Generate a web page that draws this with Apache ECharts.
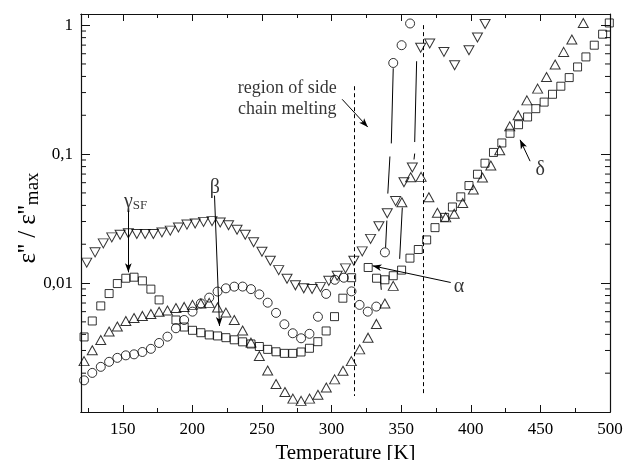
<!DOCTYPE html>
<html><head><meta charset="utf-8">
<script src="https://cdn.jsdelivr.net/npm/echarts@6/dist/echarts.min.js"></script>
<style>html,body{margin:0;padding:0;background:#fff}#c{width:626px;height:460px}</style>
</head><body><div id="c"></div>
<script>
// ---- data (temperature [K], eps''/eps''max) ----
const squareT = [122.2,128.1,134.2,140.2,146.1,152.2,158.1,164.1,170.2,176.1,188.2,194.1,200.1,206.1,212.1,218.1,224.1,230.1,236.1,242.1,248.1,254.1,260.1,266.1,272.1,278.1,284.1,290.1,296.1,302.1,308.1,314.4,326.3,332.3,338.3,344.3,350.3,356.3,362.3,368.3,374.3,381.2,386.8,392.8,398.7,404.8,410.2,416.3,422.3,428.2,434.3,440.8,446.7,452.7,458.7,464.7,470.7,476.7,482.7,488.7,494.7,499.5];
const squareV = [0.00382,0.00508,0.00665,0.00829,0.00991,0.0109,0.0111,0.0104,0.00897,0.0074,0.00517,0.00456,0.0043,0.00412,0.00396,0.00389,0.00377,0.00363,0.0035,0.00337,0.00322,0.00306,0.00293,0.00285,0.00285,0.00292,0.00312,0.00351,0.00425,0.00549,0.00763,0.0110,0.0132,0.0109,0.0106,0.0114,0.0126,0.0156,0.0182,0.0216,0.0269,0.0323,0.0389,0.0466,0.0570,0.0698,0.0850,0.103,0.122,0.145,0.169,0.194,0.225,0.253,0.291,0.336,0.392,0.474,0.567,0.699,0.851,1.04];

const circleT = [122.2,128.1,134.2,140.2,146.1,152.2,158.1,164.1,170.2,176.1,182.1,188.2,194.1,200.1,206.1,212.1,218.1,224.1,230.1,236.1,242.1,248.1,254.1,260.1,266.1,272.1,278.1,284.1,290.2,296.1,302.3,308.8,314.3,320.1,326.0,332.1,338.3,344.3,350.3,356.4];
const circleV = [0.00176,0.00201,0.00224,0.00245,0.00263,0.00275,0.0028,0.00292,0.00309,0.00343,0.00384,0.00446,0.00517,0.0060,0.00695,0.00771,0.00859,0.0091,0.00938,0.00939,0.00897,0.00817,0.00704,0.00587,0.00479,0.00408,0.00373,0.00404,0.00548,0.00824,0.0106,0.0110,0.00862,0.00677,0.0060,0.00657,0.0173,0.509,0.699,1.03];

const upT = [122.2,128.1,134.2,140.2,146.1,152.2,158.1,164.1,170.2,176.1,182.1,188.2,194.1,200.1,206.1,212.1,218.1,224.1,230.1,236.1,242.1,248.1,254.1,260.1,266.5,272.2,278.1,284.2,290.2,296.2,302.2,308.2,314.2,320.2,326.2,332.2,338.3,344.3,350.5,356.8,364.3,369.9,376.0,382.0,388.1,394.2,401.8,408.4,414.4,420.8,428.0,434.0,440.3,448.0,454.4,460.6,466.7,472.6,480.8];
const upV = [0.00248,0.00301,0.00362,0.00421,0.0046,0.00508,0.00536,0.00556,0.00576,0.00599,0.00612,0.00641,0.00653,0.00677,0.00693,0.00702,0.00647,0.0059,0.00517,0.00429,0.00345,0.00272,0.0021,0.00165,0.00143,0.00127,0.00122,0.00127,0.00136,0.00155,0.00179,0.00209,0.00248,0.00306,0.00377,0.00482,0.00693,0.00951,0.0423,0.0661,0.0666,0.0462,0.0351,0.0323,0.0345,0.0417,0.0531,0.0658,0.0815,0.107,0.164,0.200,0.261,0.322,0.396,0.495,0.620,0.774,1.04];

const downT = [124.1,130.1,136.0,142.1,148.1,154.0,160.1,166.1,172.0,178.1,184.1,190.0,196.1,202.0,208.0,214.1,220.0,226.0,232.1,238.0,244.0,250.0,256.0,262.0,268.0,274.0,280.0,286.0,292.0,298.0,304.0,310.0,316.0,322.0,328.0,334.0,340.0,346.0,352.0,358.0,364.0,370.5,380.7,388.4,398.7,404.8,410.3];
const downV = [0.0144,0.0173,0.0203,0.0226,0.0237,0.0243,0.024,0.024,0.024,0.0247,0.0255,0.027,0.0284,0.029,0.0298,0.0302,0.0295,0.0281,0.0259,0.0237,0.0207,0.0175,0.0149,0.0126,0.0108,0.0096,0.0091,0.0090,0.0093,0.0104,0.0114,0.0130,0.0149,0.0176,0.0220,0.0276,0.0348,0.0432,0.0605,0.0787,0.668,0.721,0.620,0.489,0.639,0.802,1.02];

// ---- axis ticks / labels ----
const xTickMinor = [125,150,175,200,225,250,275,300,325,350,375,400,425,450,475,500];
const xTickLabels = [150,200,250,300,350,400,450,500];
const yTickVals = [0.01,0.1,1];
const yTickLabels = ['0,01','0,1','1'];
const yMantissas = [2,3,4,5,6,7,8,9];
const yDecades = [0.001,0.01,0.1];

const FONT = 'Liberation Serif';
const zip = (a,b) => a.map((t,i)=>[t,b[i]]);
const yMinor = [];
yDecades.forEach(d => yMantissas.forEach(m => yMinor.push([120, +(d*m).toPrecision(3)])));

const hollow = {color:'rgba(0,0,0,0)', borderColor:'#000', borderWidth:1};

// annotation geometry in data space (T, value)
const dashedLines = [[[316.5,0.336],[316.5,0.00133]],[[365.9,1.0],[365.9,0.00138]]];
const arrowLines = [
  [[154.0,0.0364],[154.0,0.0121]],
  [[215.9,0.0477],[219.5,0.00465]],
  [[385.6,0.0101],[329.4,0.0136]],
  [[442.6,0.0881],[435.4,0.129]],
  [[307.6,0.266],[326.0,0.162]]
];
const plainLines = [
  [[344.3,0.463],[342.9,0.121]],[[341.9,0.0958],[340.4,0.0494]],[[339.7,0.0305],[338.8,0.0188]],[[335.2,0.0102],[335.7,0.00886]],
  [[361.1,0.525],[359.7,0.124]],[[359.7,0.101],[359.2,0.0908]],
  [[350.8,0.0385],[348.9,0.0154]]
];
const texts = [
  {pos:[159.2,0.0430], text:'{g|γ}{s|SF}'},
  {pos:[216.1,0.0545], text:'{g|β}'},
  {pos:[391.5,0.0093], text:'{g|α}'},
  {pos:[449.8,0.0750], text:'{g|δ}'},
  {pos:[268.1,0.270], text:'{r|region of side}\n{r|chain melting}'}
];

const mlData = [];
dashedLines.forEach(l => mlData.push([{coord:l[0], symbol:'none', lineStyle:{type:[4,3], color:'#000', width:1}},{coord:l[1], symbol:'none'}]));
arrowLines.forEach(l => mlData.push([{coord:l[0], symbol:'none', lineStyle:{type:'solid', color:'#000', width:1}},{coord:l[1], symbol:'arrow', symbolSize:[5,9]}]));
plainLines.forEach(l => mlData.push([{coord:l[0], symbol:'none', lineStyle:{type:'solid', color:'#000', width:1}},{coord:l[1], symbol:'none'}]));

const axisLineStyle = {show:true, lineStyle:{color:'#111', width:1.2}};
function xAx(pos, len, vals, labels, name) {
  return {type:'value', min:120, max:500, position:pos,
    axisLine:axisLineStyle, splitLine:{show:false},
    axisTick:{show:true, inside:true, length:len, customValues:vals, lineStyle:{color:'#111', width:1}},
    axisLabel: labels ? {show:true, customValues:labels, fontFamily:FONT, fontSize:17, color:'#000', margin:9} : {show:false},
    name: name || '', nameLocation:'middle', nameGap:23,
    nameTextStyle:{fontFamily:FONT, fontSize:21, color:'#000'}
  };
}
function yLabel(v){
  for (let i=0;i<yTickVals.length;i++) if (Math.abs(Math.log10(v)-Math.log10(yTickVals[i]))<1e-6) return yTickLabels[i];
  return '';
}

const chart = echarts.init(document.getElementById('c'), null, {renderer:'canvas'});
chart.setOption({
  animation:false,
  backgroundColor:'#fff',
  grid:{left:81, right:16, top:14, bottom:48, containLabel:false, outerBoundsMode:'none'},
  graphic:[{
    type:'text', x:28, y:218, rotation:Math.PI/2, silent:true,
    style:{text:'{a|ε\'\' / ε\'\'}{s|max}', align:'center', verticalAlign:'middle', fill:'#000',
      rich:{a:{fontFamily:FONT, fontSize:25, fill:'#000'}, s:{fontFamily:FONT, fontSize:19, fill:'#000', padding:[11,0,0,0]}}}
  }],
  xAxis:[
    xAx('bottom',4,xTickMinor,xTickLabels,'Temperature [K]'),
    xAx('bottom',7,xTickLabels,null),
    xAx('top',4,xTickMinor,null),
    xAx('top',7,xTickLabels,null)
  ],
  yAxis:[
    {type:'log', logBase:10, min:0.001, max:1.22, position:'left',
     axisLine:axisLineStyle, splitLine:{show:false},
     axisTick:{show:true, inside:true, length:9, lineStyle:{color:'#111', width:1}},
     axisLabel:{show:true, formatter:yLabel, fontFamily:FONT, fontSize:17, color:'#000', margin:8}
    },
    {type:'log', logBase:10, min:0.001, max:1.22, position:'right',
     axisLine:axisLineStyle, splitLine:{show:false},
     axisTick:{show:true, inside:true, length:9, lineStyle:{color:'#111', width:1}},
     axisLabel:{show:false}}
  ],
  series:[
    {type:'custom', silent:true, data:yMinor, clip:false, z:1,
     renderItem:(params, api)=>{
       const p = api.coord([api.value(0), api.value(1)]);
       const cs = params.coordSys;
       const st = {stroke:'#111', lineWidth:1};
       return {type:'group', children:[
         {type:'line', shape:{x1:cs.x, y1:p[1], x2:cs.x+5, y2:p[1]}, style:st},
         {type:'line', shape:{x1:cs.x+cs.width-5, y1:p[1], x2:cs.x+cs.width, y2:p[1]}, style:st}
       ]};
     }},
    {type:'scatter', name:'squares', data:zip(squareT,squareV), symbol:'rect', symbolSize:8, itemStyle:hollow, silent:true},
    {type:'scatter', name:'circles', data:zip(circleT,circleV), symbol:'circle', symbolSize:9, itemStyle:hollow, silent:true},
    {type:'scatter', name:'up', data:zip(upT,upV), symbol:'triangle', symbolSize:[10,9], itemStyle:hollow, silent:true},
    {type:'scatter', name:'down', data:zip(downT,downV), symbol:'triangle', symbolRotate:180, symbolSize:[10,9], itemStyle:hollow, silent:true},
    {type:'scatter', name:'annotations', silent:true, symbolSize:1, itemStyle:{color:'rgba(0,0,0,0)'},
     data:texts.map(t=>({value:t.pos, label:{formatter:t.text}})),
     label:{show:true, position:'inside', color:'#000',
       rich:{g:{fontFamily:FONT, fontSize:20, color:'#000'},
             s:{fontFamily:FONT, fontSize:13, color:'#000', padding:[9,0,0,0]},
             r:{fontFamily:FONT, fontSize:18, color:'#000', lineHeight:21, align:'center'}}},
     markLine:{silent:true, animation:false, label:{show:false}, data:mlData}
    }
  ]
});
</script></body></html>
